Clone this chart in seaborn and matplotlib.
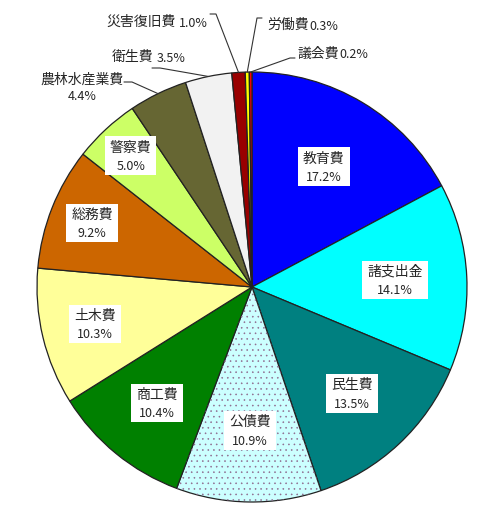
import numpy as np
import matplotlib
matplotlib.use('Agg')
import matplotlib.pyplot as plt
import seaborn as sns
from matplotlib.patches import Wedge, Rectangle

sns.set_theme(style='white')
plt.rcParams['font.family'] = ['Noto Sans CJK JP', 'DejaVu Sans']
plt.rcParams['hatch.linewidth'] = 0.4

# data
items = ['教育費', '諸支出金', '民生費', '公債費', '商工費', '土木費', '総務費',
         '警察費', '農林水産業費', '衛生費', '災害復旧費', '労働費', '議会費']
shares = [17.2, 14.1, 13.5, 10.9, 10.4, 10.3, 9.2, 5.0, 4.4, 3.5, 1.0, 0.3, 0.2]
colors = ['#0000ff', '#00ffff', '#008080', '#ccffff', '#008000', '#ffff99', '#cc6600',
          '#ccff66', '#666633', '#f2f2f2', '#990000', '#ffff00', '#ff0000']

# label placement (inside labels: radius along mid angle)
inner_r = [0.65, 0.665, 0.68, 0.67, 0.70, 0.75, 0.80, 0.83]

CX, CY, R = 252, 288, 215


def px(x, y):
    return (x - CX) / R, (CY - y) / R


fig = plt.figure(figsize=(5, 5.06), dpi=100)
ax = fig.add_axes([(CX - R) / 500, (506 - CY - R) / 506, 2 * R / 500, 2 * R / 506])

wedges, _ = ax.pie(shares, colors=colors, startangle=90, counterclock=False, radius=1,
                   wedgeprops=dict(edgecolor='#222222', linewidth=0.9))
ax.set_xlim(-1, 1)
ax.set_ylim(-1, 1)
ax.axis('off')

# dotted pattern on 公債費
w = wedges[3]
ax.add_patch(Wedge((0, 0), 1, w.theta1, w.theta2, facecolor='none',
                   edgecolor='#8e6a8e', linewidth=0, hatch='...'))

mids = [np.deg2rad((w.theta1 + w.theta2) / 2) for w in wedges]

boxes = []
for i, r in enumerate(inner_r):
    x, y = r * np.cos(mids[i]), r * np.sin(mids[i])
    t1 = ax.text(x, y + 0.045, items[i], ha='center', va='center', fontsize=10, zorder=6)
    t2 = ax.text(x, y - 0.043, f'{shares[i]:.1f}%', ha='center', va='center', fontsize=9, zorder=6)
    boxes.append((t1, t2))

fig.canvas.draw()
renderer = fig.canvas.get_renderer()
inv = ax.transData.inverted()
for t1, t2 in boxes:
    b1 = t1.get_window_extent(renderer)
    b2 = t2.get_window_extent(renderer)
    x0 = min(b1.x0, b2.x0) - 5
    x1 = max(b1.x1, b2.x1) + 5
    y0 = min(b1.y0, b2.y0) - 3
    y1 = max(b1.y1, b2.y1) + 3
    (dx0, dy0), (dx1, dy1) = inv.transform([(x0, y0), (x1, y1)])
    ax.add_patch(Rectangle((dx0, dy0), dx1 - dx0, dy1 - dy0, facecolor='white',
                           edgecolor='none', zorder=5))

# outside labels
kw = dict(va='center', zorder=6, clip_on=False)
# 農林水産業費
ax.text(*px(82, 80), items[8], ha='center', fontsize=10, **kw)
ax.text(*px(82, 97), f'{shares[8]:.1f}%', ha='center', fontsize=9, **kw)
# 衛生費
ax.text(*px(153, 57), items[9], ha='right', fontsize=10, **kw)
ax.text(*px(157, 58), f'{shares[9]:.1f}%', ha='left', fontsize=9, **kw)
# 災害復旧費
ax.text(*px(176, 22), items[10], ha='right', fontsize=10, **kw)
ax.text(*px(179, 23), f'{shares[10]:.1f}%', ha='left', fontsize=9, **kw)
# 労働費
ax.text(*px(267, 25), items[11], ha='left', fontsize=10, **kw)
ax.text(*px(309, 26), f'{shares[11]:.1f}%', ha='left', fontsize=9, **kw)
# 議会費
ax.text(*px(297, 54), items[12], ha='left', fontsize=10, **kw)
ax.text(*px(339, 55), f'{shares[12]:.1f}%', ha='left', fontsize=9, **kw)

# leader lines: start, elbow, then to wedge edge
leaders = {8: [(124, 83), (132, 83)],
           9: [(152, 69), (160, 69)],
           10: [(210, 15), (216, 15)],
           11: [(262, 19), (257, 19)],
           12: [(295, 59), (290, 59)]}
for i, pts in leaders.items():
    xs = [px(*p)[0] for p in pts] + [np.cos(mids[i])]
    ys = [px(*p)[1] for p in pts] + [np.sin(mids[i])]
    ax.plot(xs, ys, color='#333333', lw=0.8, clip_on=False, zorder=3)

fig.savefig('out.png', dpi=100, facecolor='white')
